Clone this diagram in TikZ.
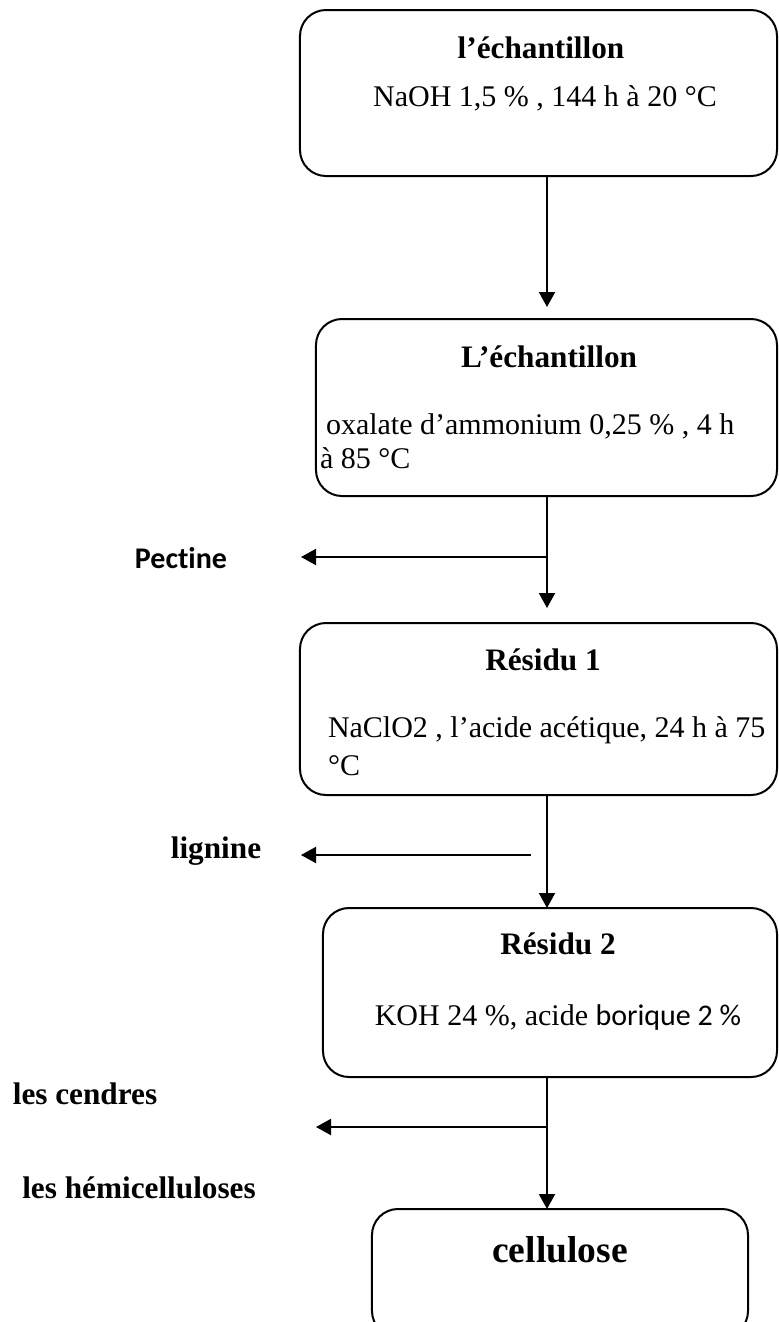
\documentclass[tikz,border=0pt]{standalone}
\usepackage{fontspec}
\setmainfont{Liberation Serif}
\newfontfamily\carlito[Ligatures=NoCommon]{Carlito}
\usetikzlibrary{arrows.meta}
\tikzset{
  box/.style={draw, line width=0.8pt, rounded corners=10.4pt, outer sep=0pt, inner sep=0pt},
  txt/.style={inner sep=0pt, outer sep=0pt, font=\fontsize{12}{14}\selectfont},
  ttl/.style={inner sep=0pt, outer sep=0pt, font=\fontsize{12.5}{15}\selectfont\bfseries},
  arr/.style={line width=0.8pt, -{Triangle[length=6pt,width=6.4pt]}},
  ln/.style={line width=0.8pt}
}
\begin{document}
\begin{tikzpicture}[x=0.4pt,y=-0.4pt]
\useasboundingbox (0,0) rectangle (779,1322);
\clip (0,0) rectangle (779,1322);
% boxes
\node[box, minimum width=190.8pt, minimum height=66.4pt] (b1) at (538.5,93) {};
\node[box, minimum width=184.4pt, minimum height=70.8pt] (b2) at (546.5,407.5) {};
\node[box, minimum width=190.8pt, minimum height=68.8pt] (b3) at (538.5,709) {};
\node[box, minimum width=181.6pt, minimum height=67.6pt] (b4) at (550,992.5) {};
\node[box, minimum width=150.4pt, minimum height=51.2pt] (b5) at (560,1273) {};
% box texts
\node[ttl, anchor=base] (t1) at (541,58) {l’échantillon};
\node[txt, anchor=base] (s1) at (545,106) {NaOH 1,5 \% , 144 h à 20 °C};
\node[ttl, anchor=base] (t2) at (549,367) {L’échantillon};
\node[txt, anchor=base west] (s2a) at (326,434) {oxalate d’ammonium 0,25 \% , 4 h};
\node[txt, anchor=base west] (s2b) at (320,468) {à 85 °C};
\node[ttl, anchor=base] (t3) at (543,670) {Résidu 1};
\node[txt, anchor=base west] (s3a) at (328,737) {NaClO2 , l’acide acétique, 24 h à 75};
\node[txt, anchor=base west] (s3b) at (328,775) {°C};
\node[ttl, anchor=base] (t4) at (558,954) {Résidu 2};
\node[txt, anchor=base] (s4) at (558,1025) {KOH 24 \%, acide {\carlito borique 2 \%}};
\node[inner sep=0pt, anchor=base, font=\fontsize{15}{18}\selectfont\bfseries] (t5) at (560,1262) {cellulose};
% side labels
\node[inner sep=0pt, anchor=base, font=\fontsize{12}{14}\selectfont\carlito\bfseries] (pec) at (181,568) {Pectine};
\node[ttl, anchor=base] (lig) at (216,858) {lignine};
\node[ttl, anchor=base] (cen) at (85,1104) {les cendres};
\node[ttl, anchor=base] (hem) at (139,1198) {les hémicelluloses};
% coordinates
\coordinate (sp) at (547,0);
\coordinate (j1) at (547,557);
\coordinate (pe) at (301,557);
\coordinate (l0) at (531,855);
\coordinate (l1) at (301,855);
\coordinate (j3) at (547,1127);
\coordinate (ce) at (316,1127);
% connectors
\draw[arr, shorten >=4.8pt] (b1.south -| sp) -- (b2.north -| sp);
\draw[arr, shorten >=6pt] (b2.south -| sp) -- (b3.north -| sp);
\draw[arr] (j1) -- (pe);
\draw[arr] (b3.south -| sp) -- (b4.north -| sp);
\draw[arr] (l0) -- (l1);
\draw[arr] (b4.south -| sp) -- (b5.north -| sp);
\draw[arr] (j3) -- (ce);
\end{tikzpicture}
\end{document}
